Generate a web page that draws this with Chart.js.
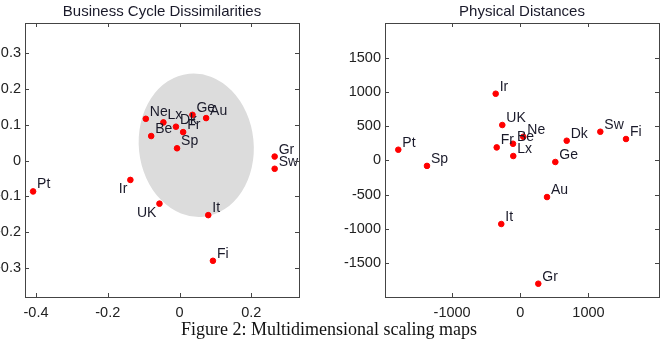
<!DOCTYPE html>
<html>
<head>
<meta charset="utf-8">
<script src="https://cdn.jsdelivr.net/npm/chart.js@4.4.0/dist/chart.umd.min.js"></script>
<style>
  body { margin: 0; background: #fff; }
  #wrap { position: relative; width: 663px; height: 339px; overflow: hidden; }
  #left { position: absolute; left: 0; top: 0; }
  #right { position: absolute; left: 330px; top: 0; }
  #caption {
    position: absolute; left: 0; width: 658px; top: 319px;
    text-align: center; font-family: "Liberation Serif", "DejaVu Serif", serif;
    font-size: 18px; color: #111;
  }
</style>
</head>
<body>
<div id="wrap">
  <canvas id="left" width="330" height="320"></canvas>
  <canvas id="right" width="333" height="320"></canvas>
  <div id="caption">Figure 2: Multidimensional scaling maps</div>
</div>
<script>
// country codes, same order in both maps
const countries = ['Pt', 'Ir', 'UK', 'It', 'Fi', 'Sw', 'Gr', 'Ne', 'Be', 'Lx', 'Dk', 'Fr', 'Sp', 'Ge', 'Au'];

// business cycle dissimilarities (MDS coordinates)
const cycleX = [-0.408, -0.137, -0.056, 0.080, 0.093, 0.265, 0.265, -0.094, -0.079, -0.045, -0.010, 0.010, -0.007, 0.036, 0.074];
const cycleY = [-0.086, -0.054, -0.120, -0.152, -0.279, -0.023, 0.011, 0.116, 0.068, 0.106, 0.094, 0.079, 0.034, 0.127, 0.118];

// physical distances (MDS coordinates, km)
const distX = [-1790, -361, -264, -279, 1551, 1174, 264, 44, -107, -103, 681, -346, -1369, 514, 392];
const distY = [156, 972, 516, -927, 312, 418, -1797, 345, 243, 64, 287, 190, -80, -23, -534];

// tick labels
const cycleXTicks = [-0.4, -0.2, 0, 0.2];
const cycleYTicks = [-0.3, -0.2, -0.1, 0, 0.1, 0.2, 0.3];
const distXTicks = [-1000, 0, 1000];
const distYTicks = [-1500, -1000, -500, 0, 500, 1000, 1500];

// grey core region on the left map: centre, radii (data units), tilt (rad)
const coreEllipse = { cx: 0.0465, cy: 0.0425, rx: 0.16, ry: 0.2, tilt: -0.1 };

// labels written below-left of their point instead of above-right
const cycleLabelsBelowLeft = ['Ir', 'UK'];

const tickFont = { family: 'Liberation Sans, Arial, sans-serif', size: 14.5 };

function toPoints(xs, ys)
{
    let pts = [];
    for (let i = 0; i < xs.length; i++)
    {
        pts.push({ x: xs[i], y: ys[i] });
    }
    return pts;
}

function fmtTick(v)
{
    return String(Math.round(v * 1000) / 1000);
}

const framePlugin = {
    id: 'frame',
    afterDatasetsDraw(chart)
    {
        const ctx = chart.ctx;
        const a = chart.chartArea;
        const len = 4;
        ctx.save();
        ctx.strokeStyle = '#444';
        ctx.lineWidth = 1;
        ctx.beginPath();
        chart.scales.x.ticks.forEach(function (t) {
            const px = Math.round(chart.scales.x.getPixelForValue(t.value)) + 0.5;
            ctx.moveTo(px, a.bottom); ctx.lineTo(px, a.bottom - len);
            ctx.moveTo(px, a.top); ctx.lineTo(px, a.top + len);
        });
        chart.scales.y.ticks.forEach(function (t) {
            const py = Math.round(chart.scales.y.getPixelForValue(t.value)) + 0.5;
            ctx.moveTo(a.left, py); ctx.lineTo(a.left + len, py);
            ctx.moveTo(a.right, py); ctx.lineTo(a.right - len, py);
        });
        ctx.stroke();
        ctx.strokeRect(Math.round(a.left) + 0.5, Math.round(a.top) + 0.5,
                       Math.round(a.right - a.left), Math.round(a.bottom - a.top));
        ctx.restore();
    }
};

function makeLabelPlugin(belowLeft)
{
    return {
        id: 'pointLabels',
        afterDatasetsDraw(chart)
        {
            const ctx = chart.ctx;
            const a = chart.chartArea;
            const meta = chart.getDatasetMeta(0);
            ctx.save();
            ctx.beginPath();
            ctx.rect(a.left, a.top, a.right - a.left, a.bottom - a.top);
            ctx.clip();
            ctx.font = '14px "Liberation Sans", Arial, sans-serif';
            ctx.fillStyle = '#1a1a2a';
            ctx.textBaseline = 'alphabetic';
            meta.data.forEach(function (p, i) {
                const name = countries[i];
                if (belowLeft.indexOf(name) >= 0)
                {
                    ctx.textAlign = 'right';
                    ctx.fillText(name, p.x - 3, p.y + 13);
                }
                else
                {
                    ctx.textAlign = 'left';
                    ctx.fillText(name, p.x + 4, p.y - 3);
                }
            });
            ctx.restore();
        }
    };
}

const ellipsePlugin = {
    id: 'coreEllipse',
    beforeDatasetsDraw(chart)
    {
        const xs = chart.scales.x, ys = chart.scales.y;
        const cx = xs.getPixelForValue(coreEllipse.cx);
        const cy = ys.getPixelForValue(coreEllipse.cy);
        const rx = Math.abs(xs.getPixelForValue(coreEllipse.cx + coreEllipse.rx) - cx);
        const ry = Math.abs(ys.getPixelForValue(coreEllipse.cy + coreEllipse.ry) - cy);
        const ctx = chart.ctx;
        ctx.save();
        ctx.fillStyle = '#dcdcdc';
        ctx.beginPath();
        ctx.ellipse(cx, cy, rx, ry, coreEllipse.tilt, 0, Math.PI * 2);
        ctx.fill();
        ctx.restore();
    }
};

function makeMap(canvasId, title, xs, ys, xTicks, yTicks, xRange, yRange, yAxisWidth, rightPad, extraPlugins)
{
    const ctx = document.getElementById(canvasId).getContext('2d');
    return new Chart(ctx, {
        type: 'scatter',
        data: {
            datasets: [{
                data: toPoints(xs, ys),
                backgroundColor: '#ff0000',
                borderColor: '#ff0000',
                borderWidth: 1,
                pointRadius: 2.8,
                pointHoverRadius: 2.8
            }]
        },
        options: {
            responsive: false,
            animation: false,
            events: [],
            layout: { padding: { left: 0, right: rightPad, top: 0, bottom: 0 } },
            plugins: {
                legend: { display: false },
                tooltip: { enabled: false },
                title: {
                    display: true,
                    text: title,
                    fullSize: false,
                    color: '#1a1a2a',
                    font: { family: 'Liberation Sans, Arial, sans-serif', size: 15, weight: 'normal' },
                    padding: { top: 3, bottom: 2 }
                }
            },
            scales: {
                x: {
                    type: 'linear',
                    min: xRange[0],
                    max: xRange[1],
                    grid: { display: false, drawTicks: false },
                    border: { display: false },
                    afterBuildTicks: function (s) { s.ticks = xTicks.map(v => ({ value: v })); },
                    afterFit: function (s) { s.height = 23; },
                    ticks: { font: tickFont, color: '#222', padding: 7, maxRotation: 0, callback: fmtTick }
                },
                y: {
                    type: 'linear',
                    min: yRange[0],
                    max: yRange[1],
                    grid: { display: false, drawTicks: false },
                    border: { display: false },
                    afterBuildTicks: function (s) { s.ticks = yTicks.map(v => ({ value: v })); },
                    afterFit: function (s) { s.width = yAxisWidth; },
                    ticks: { font: tickFont, color: '#222', padding: 4, callback: fmtTick }
                }
            }
        },
        plugins: extraPlugins
    });
}

makeMap('left', 'Business Cycle Dissimilarities', cycleX, cycleY, cycleXTicks, cycleYTicks,
        [-0.4306, 0.3328], [-0.3797, 0.3825], 25, 31,
        [ellipsePlugin, makeLabelPlugin(cycleLabelsBelowLeft), framePlugin]);
makeMap('right', 'Physical Distances', distX, distY, distXTicks, distYTicks,
        [-1985, 2035], [-1991, 2003], 55, 4,
        [makeLabelPlugin([]), framePlugin]);
</script>
</body>
</html>
